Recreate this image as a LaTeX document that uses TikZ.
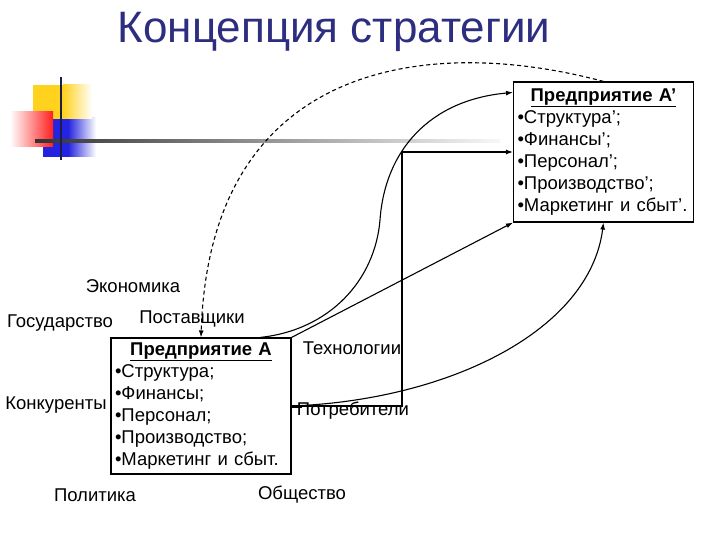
\documentclass[tikz,border=0pt]{standalone}
\usepackage{fontspec}
\setmainfont{Liberation Sans}
\usetikzlibrary{arrows.meta}
\definecolor{titleblue}{HTML}{2E2E80}
\definecolor{logoblue}{HTML}{2424E0}
\definecolor{logored}{HTML}{FF2020}
\definecolor{logoyellow}{HTML}{FFD21E}

\begin{document}
\begin{tikzpicture}[x=1pt, y=-1pt,
		lbl/.style={inner sep=0pt, font=\fontsize{18.5}{20}\selectfont},
		box/.style={draw, line width=1.1pt, minimum width=180pt, inner sep=4pt, text width=172pt,
			align=left, font=\fontsize{18.5}{22}\selectfont},
		arr/.style={-{Latex[length=7pt, width=5pt]}, line width=1.1pt}
	]
	\useasboundingbox (0,0) rectangle (720,540);
	% logo
	\fill[logoblue] (43,118) rectangle (68,157);
	\shade[left color=logoblue, right color=white] (68,118) rectangle (96,157);
	\fill[logoyellow] (33,85) rectangle (63,119);
	\shade[left color=logoyellow, right color=white] (63,85) rectangle (92,119);
	\shade[left color=white, right color=logored] (10,112) rectangle (53,147);
	\shade[left color=black!80, right color=black!3] (35,139.5) rectangle (500,142.5);
	\draw[titleblue!60!black, line width=2.5pt] (61,77) -- (61,160);
	% title
	\node[inner sep=0pt, text=titleblue, font=\fontsize{44}{50}\selectfont] (title) at (334,32) {Концепция стратегии};
	% boxes
	\node[box, minimum height=136pt] (A) at (201,406) {\hfill\underline{\textbf{Предприятие А}}\hfill\null\\
		•Структура;\\ •Финансы;\\ •Персонал;\\ •Производство;\\ •Маркетинг и сбыт.};
	\node[box, minimum height=140pt] (Ap) at (603.5,152) {\hfill\underline{\textbf{Предприятие А’}}\hfill\null\\
		•Структура’;\\ •Финансы’;\\ •Персонал’;\\ •Производство’;\\ •Маркетинг и сбыт’.};
	% factors
	\node[lbl] (econ) at (133,286) {Экономика};
	\node[lbl] (gov) at (60,323) {Государство};
	\node[lbl] (supp) at (192,319) {Поставщики};
	\node[lbl] (tech) at (352,348) {Технологии};
	\node[lbl] (comp) at (56,405) {Конкуренты};
	\node[lbl] (cons) at (353,411) {Потребители};
	\node[lbl] (pol) at (95,495) {Политика};
	\node[lbl] (soc) at (302,495) {Общество};
	% connectors
	\coordinate (bend) at (402,406);
	\draw[arr, dash pattern=on 4pt off 3pt] (Ap.north) .. controls (430,35) and (210,60) .. (A.north);
	\draw[arr] ([xshift=59pt]A.north) .. controls (330,330) and (375,280) .. (380,220)
		.. controls (385,150) and (430,100) .. ([yshift=-11pt]Ap.north west);
	\draw[arr] (A.north east) -- (Ap.south west);
	\draw[arr] (A.east) -- (bend) |- (Ap.west);
	\draw[line width=3pt] (A.east) -- ++(10,0);
	\draw[arr] (A.east) .. controls (450,400) and (590,330) .. (Ap.south);
\end{tikzpicture}
\end{document}
